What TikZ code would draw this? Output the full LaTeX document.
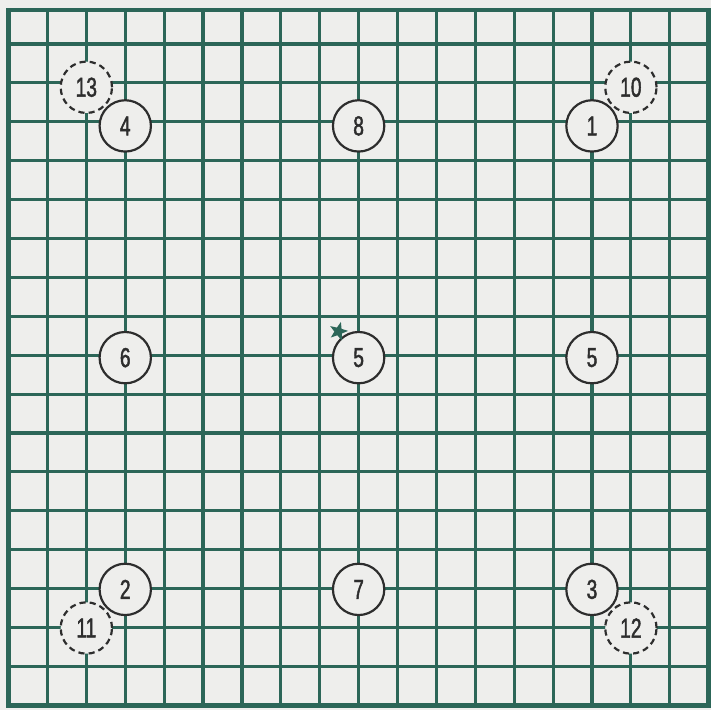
\documentclass[tikz,border=0pt]{standalone}
\usepackage{fontspec}
\newfontfamily\digitfont[FakeStretch=0.7, FakeBold=1.6]{Liberation Sans}
\usepackage{xcolor}
\usepackage{tikz}
\usetikzlibrary{shapes.geometric}
\definecolor{gridgreen}{RGB}{44,102,88}
\definecolor{paper}{RGB}{238,238,236}
\definecolor{ink}{RGB}{45,45,45}
\begin{document}
\begin{tikzpicture}[x=1cm, y=0.993cm, every node/.style={font=\digitfont\fontsize{20}{20}\selectfont, text=ink},
    spot/.style={draw=ink, circle, fill=paper, line width=1.6pt, minimum size=1.32cm, inner sep=0pt},
    ghost/.style={spot, dash pattern=on 4.5pt off 3pt}]
        \useasboundingbox (-0.22,-0.12) rectangle (18.06,18.26);
        \fill[paper] (-0.22,-0.12) rectangle (18.06,18.26);
        \draw[gridgreen, line width=2.3pt] (0,0) grid (18,18);
        \draw[gridgreen, line width=3.6pt] (0,0) rectangle (18,18);
        \node[spot] (n4) at (3,15) {4};
        \node[spot] (n8) at (9,15) {8};
        \node[spot] (n1) at (15,15) {1};
        \node[spot] (n6) at (3,9) {6};
        \node[spot] (n5a) at (9,9) {5};
        \node[spot] (n5b) at (15,9) {5};
        \node[spot] (n2) at (3,3) {2};
        \node[spot] (n7) at (9,3) {7};
        \node[spot] (n3) at (15,3) {3};
        \node[ghost] (n13) at (2,16) {13};
        \node[ghost] (n10) at (16,16) {10};
        \node[ghost] (n11) at (2,2) {11};
        \node[ghost] (n12) at (16,2) {12};
        \node[star, star points=5, star point ratio=2.4, fill=gridgreen, minimum size=0.5cm, inner sep=0pt, rotate=-15] (starmark) at (8.48,9.68) {};
      \end{tikzpicture}
\end{document}
